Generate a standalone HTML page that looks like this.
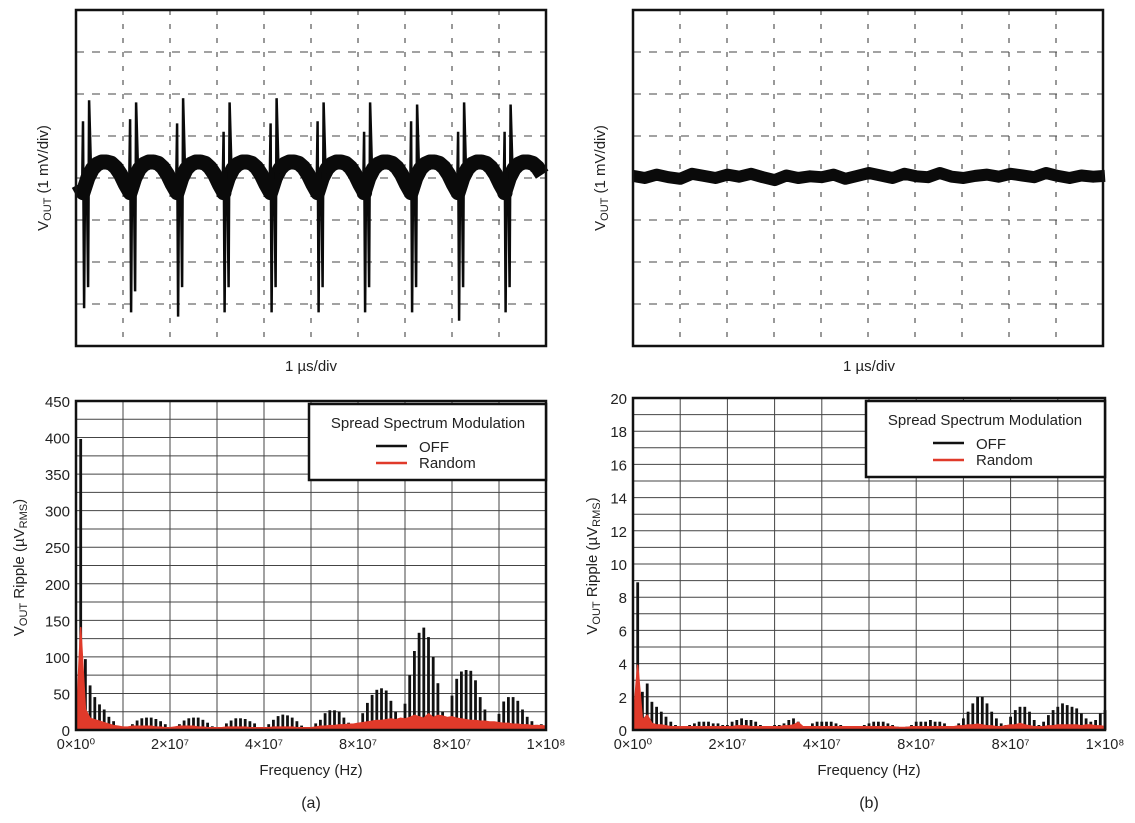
<!DOCTYPE html>
<html><head><meta charset="utf-8">
<style>
html,body{margin:0;padding:0;background:#fff;}
svg{display:block;}
text{font-family:"Liberation Sans",Arial,sans-serif;fill:#222;}
</style></head>
<body>
<svg id="fig" width="1135" height="823" viewBox="0 0 1135 823" xmlns="http://www.w3.org/2000/svg"></svg>
<script>
// ---------- DATA ----------
const scopeAEventTimes = [0.15,1.15,2.15,3.14,4.14,5.14,6.13,7.13,8.13,9.12];
const scopeAUpSpike1 = [1.35,1.4,1.3,1.1,1.3,1.35,1.1,1.35,1.1,1.1];
const scopeAUpSpike2 = [1.85,1.8,1.9,1.8,1.9,1.8,1.8,1.75,1.8,1.75];
const scopeADownSpike1 = [-3.1,-3.2,-3.3,-3.2,-3.2,-3.2,-3.2,-3.2,-3.4,-3.2];
const scopeADownSpike2 = [-2.6,-2.7,-2.6,-2.6,-2.6,-2.6,-2.6,-2.6,-2.6,-2.6];
const scopeAArch = [-0.35,0.0,0.22,0.33,0.38,0.38,0.35,0.25,0.08,-0.15,-0.35];
const scopeBTrace = [0.05,0.0,0.08,0.02,-0.02,0.1,0.05,0.0,0.08,0.03,0.1,0.02,-0.05,0.06,0.0,0.04,0.02,0.08,-0.02,0.05,0.12,0.06,0.0,0.1,0.04,0.02,0.12,0.03,0.0,0.05,0.08,0.03,0.1,0.06,0.02,0.12,0.05,0.0,0.06,0.03,0.05];

const specAOff = [398,97,61,45,35,28,18,12,5,2,3,8,13,16,17,17,15,12,8,3,2,8,13,16,17,17,14,10,5,2,3,9,13,16,16,15,12,9,3,2,8,14,19,21,20,17,12,6,2,3,9,14,23,27,27,25,17,10,3,8,23,37,48,55,57,54,40,25,5,36,75,108,133,140,127,100,64,25,8,47,70,80,82,81,68,45,28,10,5,22,39,45,45,40,28,18,12,7,8];
const specARandom = [2,140,28,16,14,12,10,8,6,5,4,4,5,5,5,5,5,4,4,3,3,4,5,5,5,5,4,4,3,3,3,3,4,4,4,4,4,3,3,3,3,3,4,4,4,4,4,3,3,3,3,4,5,5,6,6,7,7,8,8,9,10,11,12,13,13,14,15,14,16,15,17,20,18,16,22,17,20,19,17,18,16,15,14,13,13,12,12,11,11,10,9,9,8,8,7,7,6,6,6,5];
const specBOff = [8.9,2.3,2.8,1.7,1.4,1.1,0.8,0.5,0.3,0.2,0.2,0.3,0.4,0.5,0.5,0.5,0.4,0.4,0.3,0.3,0.5,0.6,0.7,0.6,0.6,0.5,0.3,0.2,0.2,0.3,0.3,0.4,0.6,0.7,0.5,0.2,0.2,0.4,0.5,0.5,0.5,0.5,0.4,0.3,0.2,0.2,0.2,0.2,0.3,0.4,0.5,0.5,0.5,0.4,0.3,0.2,0.1,0.2,0.3,0.5,0.5,0.5,0.6,0.5,0.5,0.4,0.2,0.2,0.4,0.7,1.1,1.6,2.0,2.0,1.6,1.1,0.7,0.4,0.3,0.8,1.2,1.4,1.4,1.1,0.6,0.3,0.5,0.9,1.2,1.4,1.6,1.5,1.4,1.3,1.0,0.7,0.5,0.6,1.0,1.2];
const specBRandom = [0.5,3.9,0.6,0.9,0.4,0.3,0.3,0.25,0.2,0.2,0.2,0.2,0.2,0.2,0.2,0.2,0.2,0.2,0.2,0.2,0.2,0.2,0.25,0.25,0.25,0.2,0.2,0.2,0.2,0.2,0.2,0.2,0.25,0.25,0.3,0.45,0.2,0.2,0.2,0.2,0.2,0.2,0.2,0.2,0.2,0.2,0.2,0.2,0.2,0.2,0.2,0.2,0.2,0.2,0.2,0.2,0.15,0.15,0.15,0.2,0.2,0.2,0.2,0.2,0.2,0.2,0.2,0.2,0.2,0.25,0.25,0.3,0.3,0.35,0.3,0.25,0.25,0.2,0.2,0.25,0.3,0.3,0.4,0.3,0.25,0.2,0.2,0.2,0.25,0.25,0.3,0.3,0.3,0.3,0.3,0.25,0.3,0.3,0.25,0.25,0.2];

const xTickLabels = ["0×10⁰","2×10⁷","4×10⁷","8×10⁷","8×10⁷","1×10⁸"];
const yTicksA = [0,50,100,150,200,250,300,350,400,450];
const yTicksB = [0,2,4,6,8,10,12,14,16,18,20];

// ---------- DRAW ----------
const svg = document.getElementById('fig');
const NS = 'http://www.w3.org/2000/svg';
function mk(tag, attrs, parent){
  const e = document.createElementNS(NS, tag);
  for (const k in attrs) e.setAttribute(k, attrs[k]);
  (parent||svg).appendChild(e);
  return e;
}
function txt(x,y,s,size,anchor,parent){
  const t = mk('text',{x:x,y:y,'font-size':size,'text-anchor':anchor||'middle'},parent);
  t.textContent = s;
  return t;
}

function scopeFrame(x0,name){
  const g = mk('g',{});
  
  
  const w=470,h=336,y0=10;
  for(let i=1;i<10;i++){
    const x=x0+i*w/10;
    mk('line',{x1:x,y1:y0,x2:x,y2:y0+h,stroke:'#333','stroke-width':1,'stroke-dasharray':'5,9'},g);
  }
  for(let j=1;j<8;j++){
    const y=y0+j*h/8;
    mk('line',{x1:x0,y1:y,x2:x0+w,y2:y,stroke:'#444','stroke-width':1,'stroke-dasharray':'8,8'},g);
  }
  return g;
}
function scopeBorder(x0){
  const r = mk('rect',{x:x0,y:10,width:470,height:336,fill:'none',stroke:'#111','stroke-width':2.5});
  
  
}
function scopeLabels(x0, cx, yl){
  const t = mk('text',{x:0,y:0,'font-size':15,'text-anchor':'middle',transform:`translate(${yl},178) rotate(-90)`});
  
  
  t.innerHTML = 'V<tspan font-size="11" dy="3">OUT</tspan><tspan dy="-3"> (1 mV/div)</tspan>';
  const xt = txt(cx,371,'1 µs/div',15);
  
  
}

scopeFrame(76,'scope-a-grid');
{
  const X = d => 76 + d*47;
  const Y = v => 178 - v*42;
  let pts=[];
  for(let e=-1;e<scopeAEventTimes.length;e++){
    const t0 = e<0 ? scopeAEventTimes[0]-1 : scopeAEventTimes[e];
    for(let k=0;k<scopeAArch.length;k++){
      const t = t0 + k/(scopeAArch.length-1)*1.0;
      if(t<0||t>10) continue;
      pts.push(X(t).toFixed(1)+','+Y(scopeAArch[k]).toFixed(1));
    }
  }
  const arch = mk('polyline',{points:pts.join(' '),fill:'none',stroke:'#0a0a0a','stroke-width':15,'stroke-linejoin':'round'});
  
  
  for(let i=0;i<scopeAEventTimes.length;i++){
    const t=scopeAEventTimes[i], px=0.0213;
    const sp=[[t-0.02,-0.3],[t,scopeAUpSpike1[i]],[t+px,scopeADownSpike1[i]],[t+2*px,0.2],[t+4*px,-0.5],[t+5*px,scopeADownSpike2[i]],[t+6*px,scopeAUpSpike2[i]],[t+8*px,0.1]];
    const p = mk('polyline',{points:sp.map(q=>X(q[0]).toFixed(1)+','+Y(q[1]).toFixed(1)).join(' '),fill:'none',stroke:'#0a0a0a','stroke-width':2.5});
    
    
  }
}
scopeBorder(76);
scopeLabels(76,311,48);

scopeFrame(633,'scope-b-grid');
{
  const X = d => 633 + d*47.2;
  const Y = v => 178 - v*42;
  const pts = scopeBTrace.map((v,i)=>X(i*0.25).toFixed(1)+','+Y(v).toFixed(1));
  const p = mk('polyline',{points:pts.join(' '),fill:'none',stroke:'#0a0a0a','stroke-width':12,'stroke-linejoin':'round'});
  
  
}
scopeBorder(633);
scopeLabels(633,869,605);

function spectrum(o){
  const {x0,x1,y0,y1,ymax,ticks,minor,off,rnd,name,lgX,yTitleX,ticksX} = o;
  const X = f => x0 + f/100*(x1-x0);
  const Y = v => y1 - v/ymax*(y1-y0);
  const g = mk('g',{});
  
  
  for(let v=minor; v<ymax; v+=minor){
    mk('line',{x1:x0,y1:Y(v),x2:x1,y2:Y(v),stroke:'#444','stroke-width':1},g);
  }
  for(let i=1;i<10;i++){
    mk('line',{x1:X(i*10),y1:y0,x2:X(i*10),y2:y1,stroke:'#444','stroke-width':1},g);
  }
  off.forEach((v,i)=>{
    const b = mk('rect',{x:(X(i+1)-1.4).toFixed(1),y:Y(v).toFixed(1),width:2.8,height:(y1-Y(v)).toFixed(1),fill:'#111'},g);
    
    
  });
  let pts=[X(0)+','+y1];
  rnd.forEach((v,i)=>pts.push(X(i).toFixed(1)+','+Y(v).toFixed(1)));
  pts.push(X(rnd.length-1)+','+y1);
  const a = mk('polygon',{points:pts.join(' '),fill:'#e03a2a',stroke:'#e03a2a','stroke-width':1.5,'stroke-linejoin':'round'},g);
  
  
  mk('rect',{x:x0,y:y0,width:x1-x0,height:y1-y0,fill:'none',stroke:'#111','stroke-width':2.5},g);
  ticks.forEach(v=>{
    const t=txt(ticksX,Y(v)+6,String(v),15,'end',g);
    
    
  });
  xTickLabels.forEach((s,i)=>{
    const t=txt(X(i*20),y1+19,s,14.5,'middle',g);
    
    
  });
  const xt=txt((x0+x1)/2,y1+45,'Frequency (Hz)',15,'middle',g);
  
  
  const yt = mk('text',{x:0,y:0,'font-size':15,'text-anchor':'middle',transform:`translate(${yTitleX},${(y0+y1)/2+2}) rotate(-90)`},g);
  
  
  yt.innerHTML='V<tspan font-size="11" dy="3">OUT</tspan><tspan dy="-3"> Ripple (µV</tspan><tspan font-size="11" dy="3">RMS</tspan><tspan dy="-3">)</tspan>';
  const lg = mk('g',{},g);
  
  
  mk('rect',{x:lgX,y:y0+3,width:x1-lgX,height:76,fill:'#fff',stroke:'#111','stroke-width':2.5},lg);
  txt(lgX+119,y0+27,'Spread Spectrum Modulation',15,'middle',lg);
  mk('line',{x1:lgX+67,y1:y0+45,x2:lgX+98,y2:y0+45,stroke:'#111','stroke-width':2.5},lg);
  txt(lgX+110,y0+51,'OFF',15,'start',lg);
  mk('line',{x1:lgX+67,y1:y0+62,x2:lgX+98,y2:y0+62,stroke:'#e03a2a','stroke-width':2.5},lg);
  txt(lgX+110,y0+67,'Random',15,'start',lg);
}
spectrum({x0:76,x1:546,y0:401,y1:730,ymax:450,ticks:yTicksA,minor:25,off:specAOff,rnd:specARandom,name:'spectrum-a',lgX:309,yTitleX:24,ticksX:70});
spectrum({x0:633,x1:1105,y0:398,y1:730,ymax:20,ticks:yTicksB,minor:1,off:specBOff,rnd:specBRandom,name:'spectrum-b',lgX:866,yTitleX:597,ticksX:627});

const ca=txt(311,808,'(a)',16);  
const cb=txt(869,808,'(b)',16);  
</script>
</body></html>
